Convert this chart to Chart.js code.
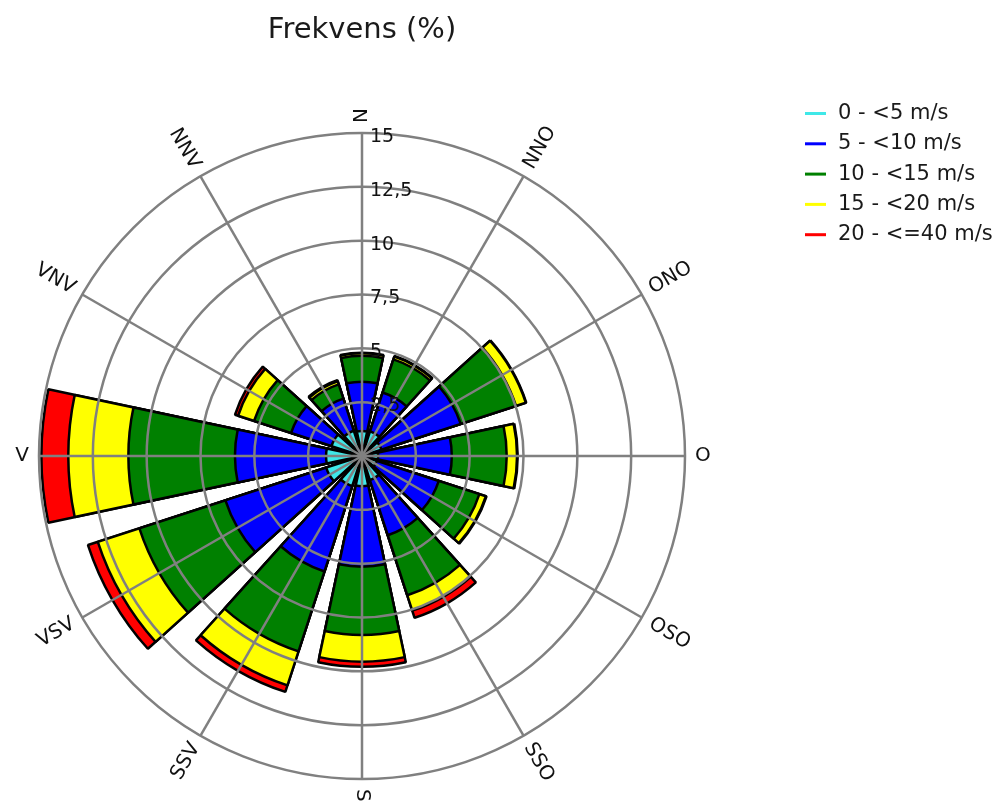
<!DOCTYPE html>
<html>
<head>
<meta charset="utf-8">
<title>Frekvens (%)</title>
<script src="https://cdn.jsdelivr.net/npm/chart.js@4.4.1/dist/chart.umd.min.js"></script>
<style>
  html, body { margin: 0; padding: 0; background: #fff; }
  #wrap { width: 1005px; height: 803px; position: relative; }
</style>
</head>
<body>
<div id="wrap"><canvas id="rose"></canvas></div>
<script>
// wind directions, clockwise from north
var directions = ['N', 'NNO', 'ONO', 'O', 'OSO', 'SSO', 'S', 'SSV', 'VSV', 'V', 'VNV', 'NNV'];
var speedClasses = ['0 - <5 m/s', '5 - <10 m/s', '10 - <15 m/s', '15 - <20 m/s', '20 - <=40 m/s'];
var classColors = ['#3fe8e8', '#0000ff', '#008000', '#ffff00', '#ff0000'];

// frequency (%) per direction, one array per speed class
var freq0to5   = [1.16, 1.20, 0.95, 0.75, 0.72, 1.17, 1.40, 1.47, 1.75, 1.67, 1.49, 1.23];
var freq5to10  = [2.29, 1.90, 3.87, 3.42, 3.03, 2.70, 3.74, 4.17, 4.92, 4.23, 1.97, 1.57];
var freq10to15 = [1.20, 1.62, 2.70, 2.55, 1.98, 2.93, 3.17, 3.90, 4.20, 4.95, 1.81, 0.70];
var freq15to20 = [0.12, 0.13, 0.48, 0.48, 0.32, 0.75, 1.24, 1.66, 2.03, 2.79, 0.78, 0.15];
var freq20to40 = [0.03, 0.03, 0.02, 0.03, 0.03, 0.35, 0.24, 0.32, 0.48, 1.25, 0.15, 0.05];

var tickValues = [2.5, 5, 7.5, 10, 12.5, 15];
var tickLabels = ['2,5', '5', '7,5', '10', '12,5', '15'];

var classSeries = [freq0to5, freq5to10, freq10to15, freq15to20, freq20to40];

// sector geometry (degrees): 12 sectors of 30, bar 24 + gap 6
var barAngle = 24;
var gapAngle = 6;

// stacked look: each dataset holds the running total, smallest drawn on top
var datasets = [];
var running = directions.map(function () { return 0; });
classSeries.forEach(function (series, c) {
  var values = [];
  series.forEach(function (v, k) {
    running[k] += v;
    values.push(+running[k].toFixed(3));
    values.push(0); // gap between bars
  });
  datasets.push({
    label: speedClasses[c],
    data: values,
    backgroundColor: classColors[c],
    borderColor: '#000',
    borderWidth: function (ctx) { return ctx.dataIndex % 2 === 0 ? 2.5 : 0; },
    angle: function (ctx) { return ctx.dataIndex % 2 === 0 ? barAngle : gapAngle; }
  });
});

// 60 grid slots of 6 degrees, start at -12 so slot 2+5k sits on direction k
var gridSlots = [];
for (var i = 0; i < 60; i++) gridSlots.push('');

var rosePlugin = {
  id: 'rosePlugin',
  afterDraw: function (chart) {
    var ctx = chart.ctx;
    var r = chart.scales.r;
    var cx = r.xCenter, cy = r.yCenter;
    var R = r.getDistanceFromCenterForValue(15);

    ctx.save();
    // title
    ctx.fillStyle = '#1a1a1a';
    ctx.font = '29px "DejaVu Sans"';
    ctx.textAlign = 'center';
    ctx.textBaseline = 'alphabetic';
    ctx.fillText('Frekvens (%)', cx, 38);

    // tick labels along north axis
    ctx.fillStyle = '#111';
    ctx.font = '19px "DejaVu Sans"';
    ctx.textAlign = 'left';
    ctx.textBaseline = 'middle';
    tickValues.forEach(function (v, i) {
      var d = r.getDistanceFromCenterForValue(v);
      ctx.fillText(tickLabels[i], cx + 8, cy - d + 4);
    });

    // direction labels, written along the radius
    ctx.font = '20px "DejaVu Sans"';
    directions.forEach(function (name, k) {
      var theta = k * 30;
      var a = (theta - 90) * Math.PI / 180;
      var px = cx + (R + 10) * Math.cos(a);
      var py = cy + (R + 10) * Math.sin(a);
      ctx.save();
      ctx.translate(px, py);
      if (theta <= 180) {
        ctx.rotate(a);
        ctx.textAlign = 'left';
      } else {
        ctx.rotate(a - Math.PI);
        ctx.textAlign = 'right';
      }
      ctx.textBaseline = 'middle';
      ctx.fillText(name, 0, 0);
      ctx.restore();
    });

    // legend
    ctx.font = '21px "DejaVu Sans"';
    ctx.textAlign = 'left';
    ctx.textBaseline = 'middle';
    speedClasses.forEach(function (name, i) {
      var y = 113.5 + i * 30.3;
      ctx.strokeStyle = classColors[i];
      ctx.lineWidth = 3;
      ctx.beginPath();
      ctx.moveTo(805, y);
      ctx.lineTo(826, y);
      ctx.stroke();
      ctx.fillStyle = '#1a1a1a';
      ctx.fillText(name, 838, y);
    });
    ctx.restore();
  }
};

new Chart(document.getElementById('rose'), {
  type: 'polarArea',
  data: { labels: gridSlots, datasets: datasets },
  options: {
    responsive: true,
    maintainAspectRatio: false,
    animation: false,
    events: [],
    layout: { padding: { left: 39, top: 133, right: 320, bottom: 24 } },
    plugins: { legend: { display: false }, tooltip: { enabled: false }, title: { display: false } },
    scales: {
      r: {
        type: 'radialLinear',
        min: 0,
        max: 15,
        startAngle: -12,
        ticks: { stepSize: 2.5, display: false },
        grid: { circular: true, color: '#808080', lineWidth: 2.5, z: 1 },
        angleLines: {
          display: true,
          color: '#808080',
          lineWidth: function (ctx) { return ctx.index % 5 === 2 ? 2.5 : 0; }
        },
        pointLabels: { display: false }
      }
    }
  },
  plugins: [rosePlugin]
});
</script>
</body>
</html>
